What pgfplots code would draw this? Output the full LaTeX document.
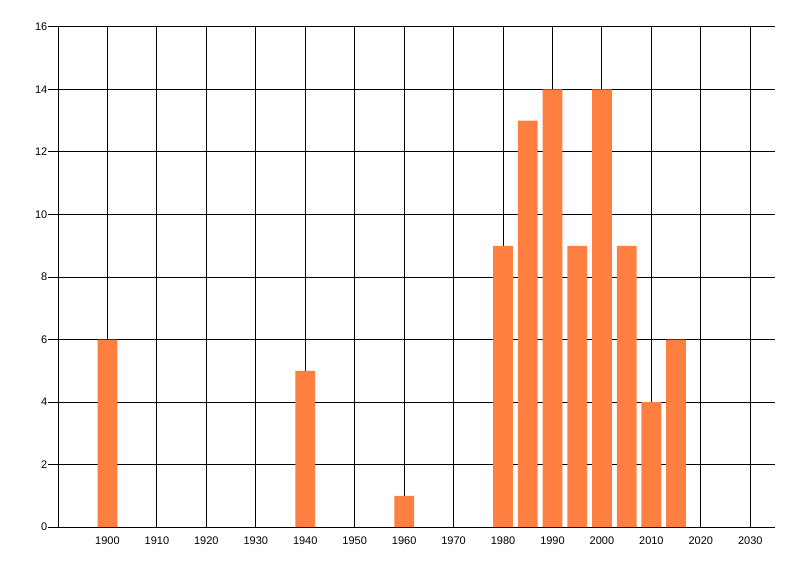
\documentclass[border=0pt]{standalone}
\usepackage{pgfplots}
\pgfplotsset{compat=1.18}
\usepackage{fontspec}
\setmainfont{Liberation Sans}
\definecolor{barorange}{RGB}{255,127,64}
\begin{document}
\begin{tikzpicture}
\useasboundingbox (0pt,0pt) rectangle (600pt,432pt);
\begin{axis}[
  at={(43.5pt,36.75pt)}, anchor=south west,
  scale only axis, width=537.75pt, height=375pt,
  xmin=1890, xmax=2035, ymin=0, ymax=16,
  xtick={1900,1910,...,2030},
  ytick={0,2,...,16},
  xticklabel style={/pgf/number format/1000 sep={}, font=\fontsize{8.25}{10}\selectfont, yshift=4pt},
  yticklabel style={font=\fontsize{8.25}{10}\selectfont, xshift=3pt},
  /pgf/number format/assume math mode=true,
  axis line style={black, line width=0.75pt},
  axis x line*=bottom, axis y line*=left,
  x axis line style={-}, y axis line style={-},
  grid=major, major grid style={black, line width=0.75pt},
  major x tick style={draw=none},
  major y tick style={black, line width=0.75pt},
  tick align=outside, major tick length=7.5pt,
  ybar, bar width=4,
]
\addplot[fill=barorange, draw=none] coordinates {
(1900,6) (1940,5) (1960,1) (1980,9) (1985,13) (1990,14) (1995,9) (2000,14) (2005,9) (2010,4) (2015,6)
};
\end{axis}
\end{tikzpicture}
\end{document}
